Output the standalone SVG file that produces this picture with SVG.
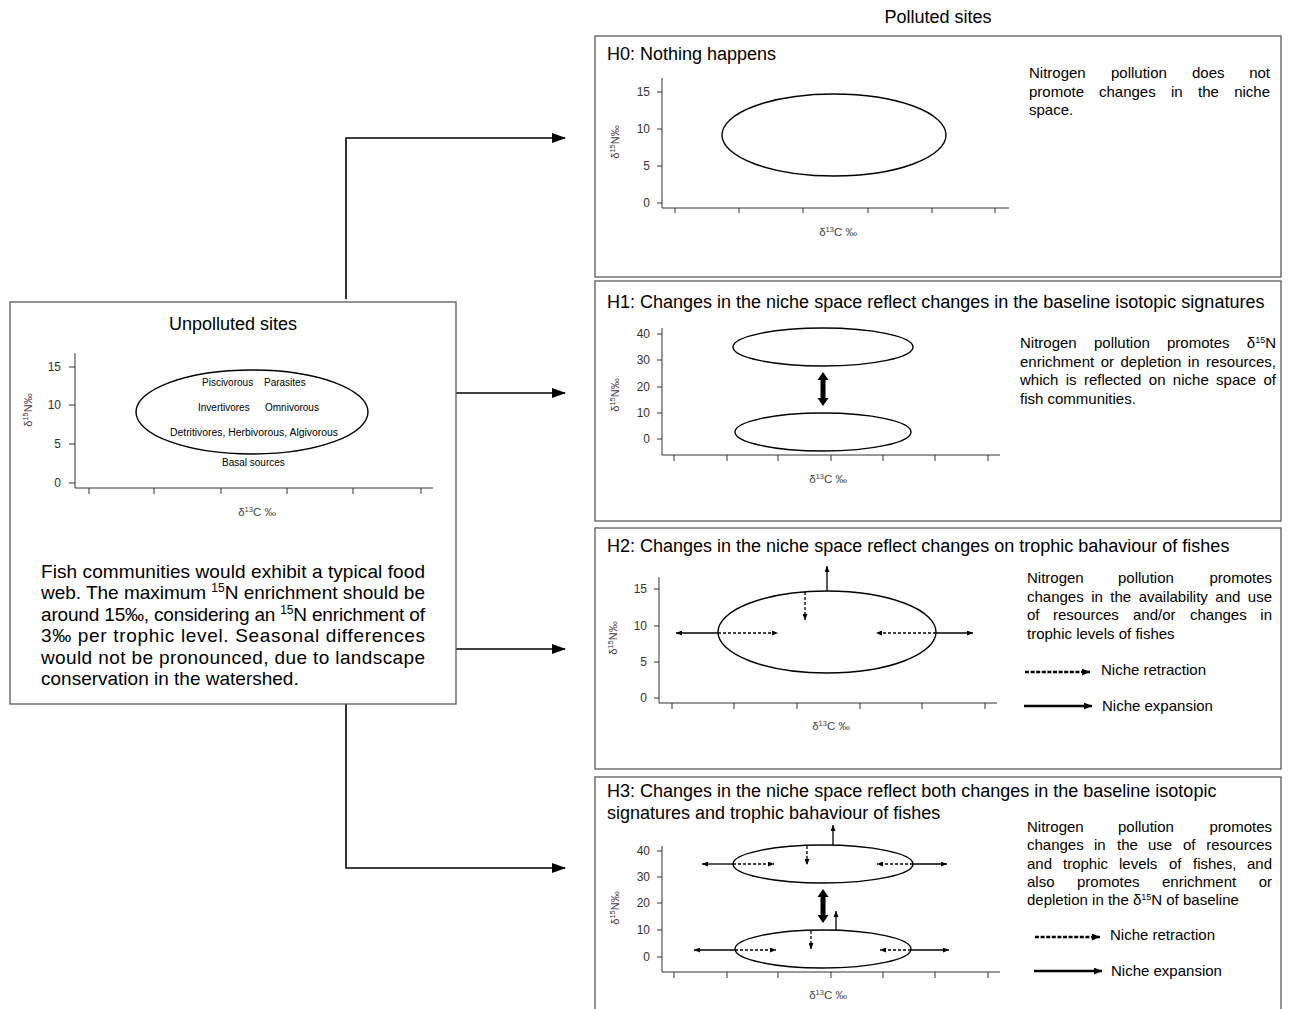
<svg xmlns="http://www.w3.org/2000/svg" width="1290" height="1009" viewBox="0 0 1290 1009">
<style>
text{font-family:"Liberation Sans",Arial,sans-serif;fill:#000}
.box{fill:#fff;stroke:#595959;stroke-width:1.3}
.ttl{font-size:18px}
.par{font-size:19px}
.desc{font-size:15px}
.ax{fill:none;stroke:#333;stroke-width:1}
.tl{font-size:12px;fill:#333;text-anchor:end}
.xl{font-size:11.5px;fill:#444;text-anchor:middle}
.yl{font-size:11px;fill:#4a3345;text-anchor:middle}
.ell{fill:none;stroke:#000;stroke-width:1.4}
.sol{fill:none;stroke:#000;stroke-width:1.3}
.dsh{fill:none;stroke:#000;stroke-width:1.3;stroke-dasharray:3 2}
.con{fill:none;stroke:#000;stroke-width:1.6}
.lgs{fill:none;stroke:#000;stroke-width:2.6}
.lgd{fill:none;stroke:#000;stroke-width:2.6;stroke-dasharray:4 1.6}
.grp{font-family:Lato,"Liberation Sans",sans-serif;font-size:10px}
.end{text-anchor:end}
</style>
<defs>
<marker id="big" viewBox="0 0 14 10" refX="13" refY="5" markerWidth="14" markerHeight="10" markerUnits="userSpaceOnUse" orient="auto"><path d="M0,0 L14,5 L0,10 z" fill="#000"/></marker>
<marker id="sm" viewBox="0 0 6 5" refX="6" refY="2.5" markerWidth="6" markerHeight="5" markerUnits="userSpaceOnUse" orient="auto"><path d="M0,0 L6,2.5 L0,5 z" fill="#000"/></marker>
<marker id="lg" viewBox="0 0 8 7" refX="8" refY="3.5" markerWidth="8" markerHeight="7" markerUnits="userSpaceOnUse" orient="auto"><path d="M0,0 L8,3.5 L0,7 z" fill="#000"/></marker>
</defs>

<text class="ttl" x="938" y="23" text-anchor="middle">Polluted sites</text>

<g id="connectors">
<path class="con" d="M346,299 V138 H565" marker-end="url(#big)"/>
<path class="con" d="M456,393 H565" marker-end="url(#big)"/>
<path class="con" d="M456,649 H565" marker-end="url(#big)"/>
<path class="con" d="M346,704 V868 H565" marker-end="url(#big)"/>
</g>

<g id="unpolluted">
<rect class="box" x="10" y="302" width="446" height="402"/>
<text class="ttl" x="233" y="330" text-anchor="middle">Unpolluted sites</text>
<path class="ax" d="M75,353 V488 H433 M69,367 H75 M69,405 H75 M69,444 H75 M69,483 H75 M89,488 V494 M154,488 V494 M221,488 V494 M287,488 V494 M353,488 V494 M421,488 V494"/>
<text class="tl" x="61" y="371">15</text>
<text class="tl" x="61" y="409">10</text>
<text class="tl" x="61" y="448">5</text>
<text class="tl" x="61" y="487">0</text>
<text class="yl" transform="translate(32,410) rotate(-90)">δ<tspan dy="-4" font-size="7.5">15</tspan><tspan dy="4">N‰</tspan></text>
<text class="xl" x="257" y="516">δ<tspan dy="-4" font-size="7.5">13</tspan><tspan dy="4">C ‰</tspan></text>
<ellipse class="ell" cx="252" cy="412" rx="116" ry="42"/>
<g class="grp">
<text x="202" y="386">Piscivorous</text>
<text x="264" y="386">Parasites</text>
<text x="198" y="411">Invertivores</text>
<text x="265" y="411">Omnivorous</text>
<text x="170" y="436" textLength="168" lengthAdjust="spacingAndGlyphs">Detritivores, Herbivorous, Algivorous</text>
<text x="222" y="466">Basal sources</text>
</g>
<g class="par">
<text x="41" y="578" textLength="384" lengthAdjust="spacing">Fish communities would exhibit a typical food</text>
<text x="41" y="599" textLength="384" lengthAdjust="spacing">web. The maximum <tspan dy="-7" font-size="12">15</tspan><tspan dy="7">N enrichment should be</tspan></text>
<text x="41" y="621" textLength="384" lengthAdjust="spacing">around 15‰, considering an <tspan dy="-7" font-size="12">15</tspan><tspan dy="7">N enrichment of</tspan></text>
<text x="41" y="642" textLength="384" lengthAdjust="spacing">3‰ per trophic level. Seasonal differences</text>
<text x="41" y="664" textLength="384" lengthAdjust="spacing">would not be pronounced, due to landscape</text>
<text x="41" y="685">conservation in the watershed.</text>
</g>
</g>

<g id="h0">
<rect class="box" x="595" y="36" width="686" height="241"/>
<text class="ttl" x="607" y="60">H0: Nothing happens</text>
<path class="ax" d="M662,78 V208 H1009 M657,92 H662 M657,129 H662 M657,166 H662 M657,203 H662 M675,208 V213 M739,208 V213 M803,208 V213 M868,208 V213 M932,208 V213 M995,208 V213"/>
<text class="tl" x="650" y="96">15</text>
<text class="tl" x="650" y="133">10</text>
<text class="tl" x="650" y="170">5</text>
<text class="tl" x="650" y="207">0</text>
<text class="yl" transform="translate(619,142) rotate(-90)">δ<tspan dy="-4" font-size="7.5">15</tspan><tspan dy="4">N‰</tspan></text>
<text class="xl" x="838" y="236">δ<tspan dy="-4" font-size="7.5">13</tspan><tspan dy="4">C ‰</tspan></text>
<ellipse class="ell" cx="834" cy="135" rx="112" ry="41"/>
<g class="desc">
<text y="78"><tspan x="1029">Nitrogen</tspan><tspan x="1111">pollution</tspan><tspan x="1192">does</tspan></text>
<text class="end" x="1270" y="78">not</text>
<text y="97"><tspan x="1029">promote</tspan><tspan x="1099">changes</tspan><tspan x="1171">in</tspan><tspan x="1198">the</tspan></text>
<text class="end" x="1270" y="97">niche</text>
<text x="1029" y="115">space.</text>
</g>
</g>

<g id="h1">
<rect class="box" x="595" y="281" width="686" height="240"/>
<text class="ttl" x="607" y="308">H1: Changes in the niche space reflect changes in the baseline isotopic signatures</text>
<path class="ax" d="M662,328 V455 H1000 M657,334 H662 M657,360 H662 M657,387 H662 M657,413 H662 M657,439 H662 M674,455 V461 M727,455 V461 M778,455 V461 M831,455 V461 M883,455 V461 M935,455 V461 M988,455 V461"/>
<text class="tl" x="650" y="338">40</text>
<text class="tl" x="650" y="364">30</text>
<text class="tl" x="650" y="391">20</text>
<text class="tl" x="650" y="417">10</text>
<text class="tl" x="650" y="443">0</text>
<text class="yl" transform="translate(619,395) rotate(-90)">δ<tspan dy="-4" font-size="7.5">15</tspan><tspan dy="4">N‰</tspan></text>
<text class="xl" x="828" y="483">δ<tspan dy="-4" font-size="7.5">13</tspan><tspan dy="4">C ‰</tspan></text>
<ellipse class="ell" cx="823" cy="347" rx="90" ry="19"/>
<ellipse class="ell" cx="823" cy="432" rx="88" ry="19"/>
<path d="M823,372 L828.5,380 L825.5,380 L825.5,398 L828.5,398 L823,406 L817.5,398 L820.5,398 L820.5,380 L817.5,380 Z" fill="#000"/>
<g class="desc">
<text y="348"><tspan x="1020">Nitrogen</tspan><tspan x="1094">pollution</tspan><tspan x="1167">promotes</tspan></text>
<text class="end" x="1276" y="348">δ<tspan dy="-5" font-size="9">15</tspan><tspan dy="5">N</tspan></text>
<text x="1020" y="367" word-spacing="2.3">enrichment or depletion in resources,</text>
<text x="1020" y="385" word-spacing="3.2">which is reflected on niche space of</text>
<text x="1020" y="404">fish communities.</text>
</g>
</g>

<g id="h2">
<rect class="box" x="595" y="528" width="686" height="241"/>
<text class="ttl" x="607" y="552">H2: Changes in the niche space reflect changes on trophic bahaviour of fishes</text>
<path class="ax" d="M659,577 V703 H997 M654,589 H659 M654,626 H659 M654,662 H659 M654,698 H659 M672,703 V709 M734,703 V709 M797,703 V709 M860,703 V709 M922,703 V709 M985,703 V709"/>
<text class="tl" x="647" y="593">15</text>
<text class="tl" x="647" y="630">10</text>
<text class="tl" x="647" y="666">5</text>
<text class="tl" x="647" y="702">0</text>
<text class="yl" transform="translate(617,638) rotate(-90)">δ<tspan dy="-4" font-size="7.5">15</tspan><tspan dy="4">N‰</tspan></text>
<text class="xl" x="831" y="730">δ<tspan dy="-4" font-size="7.5">13</tspan><tspan dy="4">C ‰</tspan></text>
<ellipse class="ell" cx="827" cy="632" rx="109" ry="41"/>
<path class="sol" d="M827,591 V566" marker-end="url(#sm)"/>
<path class="dsh" d="M805,592 V620" marker-end="url(#sm)"/>
<path class="sol" d="M718,633 H676" marker-end="url(#sm)"/>
<path class="dsh" d="M718,633 H778" marker-end="url(#sm)"/>
<path class="dsh" d="M936,633 H876" marker-end="url(#sm)"/>
<path class="sol" d="M936,633 H973" marker-end="url(#sm)"/>
<g class="desc">
<text y="583"><tspan x="1027">Nitrogen</tspan><tspan x="1118">pollution</tspan></text>
<text class="end" x="1272" y="583">promotes</text>
<text x="1027" y="602" word-spacing="3.3">changes in the availability and use</text>
<text y="620"><tspan x="1027">of</tspan><tspan x="1053">resources</tspan><tspan x="1133">and/or</tspan><tspan x="1190">changes</tspan></text>
<text class="end" x="1272" y="620">in</text>
<text x="1027" y="639">trophic levels of fishes</text>
</g>
<path class="lgd" d="M1025,672 H1090" marker-end="url(#lg)"/>
<text class="desc" x="1101" y="675">Niche retraction</text>
<path class="lgs" d="M1024,706 H1092" marker-end="url(#lg)"/>
<text class="desc" x="1102" y="711">Niche expansion</text>
</g>

<g id="h3">
<rect class="box" x="595" y="777" width="686" height="245"/>
<text class="ttl" x="607" y="797">H3: Changes in the niche space reflect both changes in the baseline isotopic</text>
<text class="ttl" x="607" y="819">signatures and trophic bahaviour of fishes</text>
<path class="ax" d="M662,846 V972 H1000 M657,851 H662 M657,877 H662 M657,903 H662 M657,930 H662 M657,957 H662 M674,972 V978 M727,972 V978 M778,972 V978 M831,972 V978 M883,972 V978 M935,972 V978 M988,972 V978"/>
<text class="tl" x="650" y="855">40</text>
<text class="tl" x="650" y="881">30</text>
<text class="tl" x="650" y="907">20</text>
<text class="tl" x="650" y="934">10</text>
<text class="tl" x="650" y="961">0</text>
<text class="yl" transform="translate(619,908) rotate(-90)">δ<tspan dy="-4" font-size="7.5">15</tspan><tspan dy="4">N‰</tspan></text>
<text class="xl" x="828" y="999">δ<tspan dy="-4" font-size="7.5">13</tspan><tspan dy="4">C ‰</tspan></text>
<ellipse class="ell" cx="823" cy="864" rx="90" ry="19"/>
<ellipse class="ell" cx="823" cy="949" rx="88" ry="19"/>
<path d="M823,889 L828.5,897 L825.5,897 L825.5,915 L828.5,915 L823,923 L817.5,915 L820.5,915 L820.5,897 L817.5,897 Z" fill="#000"/>
<path class="sol" d="M833,845 V825" marker-end="url(#sm)"/>
<path class="dsh" d="M807,846 V865" marker-end="url(#sm)"/>
<path class="sol" d="M733,864 H702" marker-end="url(#sm)"/>
<path class="dsh" d="M733,864 H774" marker-end="url(#sm)"/>
<path class="dsh" d="M913,864 H877" marker-end="url(#sm)"/>
<path class="sol" d="M913,864 H947" marker-end="url(#sm)"/>
<path class="sol" d="M836,930 V911" marker-end="url(#sm)"/>
<path class="dsh" d="M811,931 V949" marker-end="url(#sm)"/>
<path class="sol" d="M735,950 H694" marker-end="url(#sm)"/>
<path class="dsh" d="M735,950 H776" marker-end="url(#sm)"/>
<path class="dsh" d="M911,950 H880" marker-end="url(#sm)"/>
<path class="sol" d="M911,950 H949" marker-end="url(#sm)"/>
<g class="desc">
<text y="832"><tspan x="1027">Nitrogen</tspan><tspan x="1118">pollution</tspan></text>
<text class="end" x="1272" y="832">promotes</text>
<text y="850"><tspan x="1027">changes</tspan><tspan x="1094">in</tspan><tspan x="1117">the</tspan><tspan x="1148">use</tspan><tspan x="1183">of</tspan></text>
<text class="end" x="1272" y="850">resources</text>
<text y="869"><tspan x="1027">and</tspan><tspan x="1063">trophic</tspan><tspan x="1119">levels</tspan><tspan x="1169">of</tspan><tspan x="1193">fishes,</tspan></text>
<text class="end" x="1272" y="869">and</text>
<text y="887"><tspan x="1027">also</tspan><tspan x="1077">promotes</tspan><tspan x="1162">enrichment</tspan></text>
<text class="end" x="1272" y="887">or</text>
<text x="1027" y="905">depletion in the δ<tspan dy="-5" font-size="9">15</tspan><tspan dy="5">N  of baseline</tspan></text>
</g>
<path class="lgd" d="M1035,937 H1100" marker-end="url(#lg)"/>
<text class="desc" x="1110" y="940">Niche retraction</text>
<path class="lgs" d="M1034,971 H1102" marker-end="url(#lg)"/>
<text class="desc" x="1111" y="976">Niche expansion</text>
</g>
</svg>
